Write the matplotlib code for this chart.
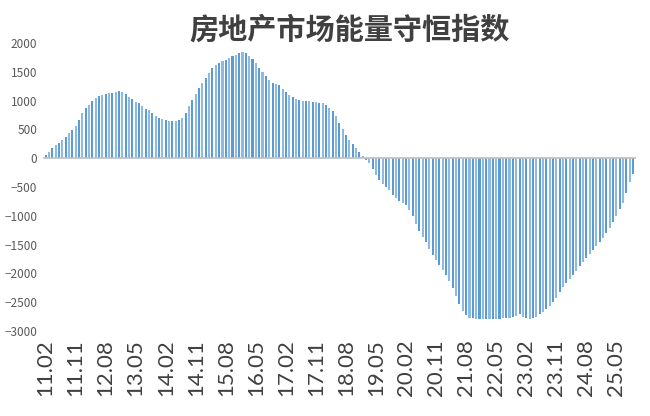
import matplotlib
matplotlib.use("Agg")
import matplotlib.pyplot as plt
import numpy as np

plt.rcParams["font.family"] = ["Noto Sans CJK SC", "DejaVu Sans"]

# monthly index values, 2011.02 .. 2025.10
values = [
    50, 110, 170, 230, 270, 320, 370, 430, 490, 560,
    660, 780, 880, 930, 1000, 1045, 1080, 1100, 1115, 1130,
    1140, 1150, 1160, 1150, 1110, 1060, 1020, 980, 950, 900,
    860, 830, 780, 740, 700, 680, 660, 650, 640, 650,
    670, 700, 790, 900, 1010, 1110, 1220, 1310, 1400, 1480,
    1560, 1620, 1660, 1690, 1710, 1740, 1770, 1790, 1820, 1840,
    1830, 1780, 1720, 1650, 1570, 1500, 1420, 1350, 1310, 1290,
    1270, 1210, 1150, 1100, 1060, 1030, 1010, 1000, 990, 985,
    980, 975, 960, 950, 930, 880, 820, 740, 620, 500,
    400, 320, 240, 170, 100, 40, -30, -90, -180, -290,
    -380, -440, -500, -560, -630, -690, -740, -780, -820, -900,
    -1000, -1150, -1270, -1370, -1460, -1570, -1680, -1770, -1850, -1940,
    -2030, -2140, -2250, -2400, -2530, -2650, -2730, -2770, -2780, -2790,
    -2790, -2790, -2795, -2795, -2790, -2790, -2785, -2780, -2780, -2770,
    -2760, -2740, -2710, -2750, -2780, -2785, -2780, -2750, -2710, -2670,
    -2610, -2560, -2500, -2420, -2330, -2240, -2170, -2100, -2030, -1950,
    -1880, -1800, -1730, -1660, -1590, -1520, -1460, -1390, -1300, -1210,
    -1110, -1000, -890, -780, -600, -420, -270,
]

tick_labels = [
    "11.02", "11.11", "12.08", "13.05", "14.02", "14.11", "15.08",
    "16.05", "17.02", "17.11", "18.08", "19.05", "20.02", "20.11",
    "21.08", "22.05", "23.02", "23.11", "24.08", "25.05",
]
tick_step = 9

title = "房地产市场能量守恒指数"

x = np.arange(len(values))
colors = ["#5B9BD5" if i % 2 == 0 else "#8DB9E2" for i in range(len(values))]

fig = plt.figure(figsize=(6.5, 4.16), dpi=100)
ax = fig.add_axes([0.066, 0.2043, 0.912, 0.6923])

ax.bar(x, values, width=0.62, color=colors, linewidth=0)
ax.axhline(0, color="#BFBFBF", linewidth=1.2, zorder=3)

ax.set_xlim(-0.8, len(values) - 0.2)
ax.set_ylim(-3000, 2000)
ax.set_yticks(range(-3000, 2001, 500))
ax.tick_params(axis="y", length=0, labelsize=8.5, labelcolor="#595959", pad=4)

ax.set_xticks(x[::tick_step][: len(tick_labels)])
ax.set_xticklabels(tick_labels, rotation=90, fontsize=16, color="#404040",
                   family=["Lato", "DejaVu Sans"])
ax.tick_params(axis="x", length=0, pad=6)

for s in ax.spines.values():
    s.set_visible(False)

fig.text(0.538, 0.928, title, ha="center", va="center", fontsize=21,
         fontweight="bold", color="#404040")

fig.savefig("out.png", dpi=100)
